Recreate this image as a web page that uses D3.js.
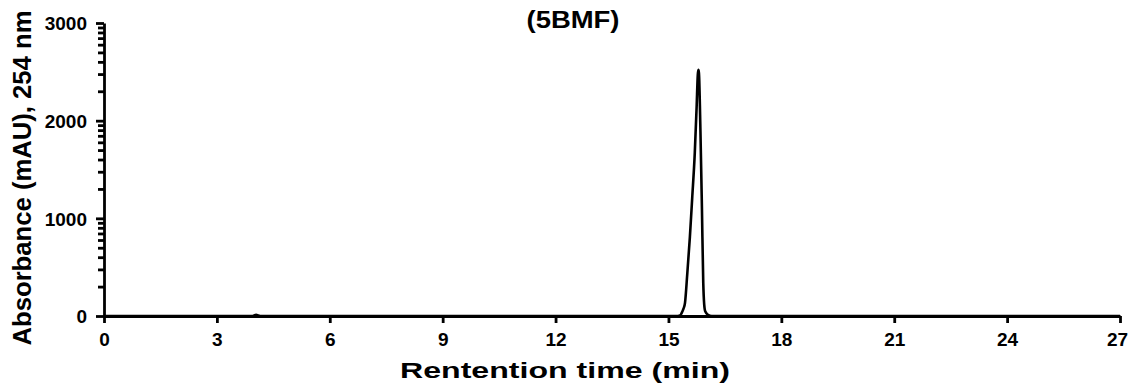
<!DOCTYPE html>
<html>
<head>
<meta charset="utf-8">
<script src="https://cdn.jsdelivr.net/npm/d3@7"></script>
<style>
  body { margin: 0; background: #fff; }
  text { font-family: "Liberation Sans", Arial, sans-serif; font-weight: bold; fill: #000; }
  .axis path, .axis line { stroke: #000; stroke-width: 2.8px; }
</style>
</head>
<body>
<div id="chart"></div>
<script>
// chromatogram trace
var times = [0, 3.95, 4.04, 4.15, 15.25, 15.31, 15.35, 15.40, 15.44, 15.50, 15.57, 15.63, 15.70,
             15.75, 15.78, 15.795, 15.81, 15.85, 15.89, 15.925, 15.95, 15.98, 16.05, 16.15, 27];
var absorbance = [0, 0, 12, 0, 0, 5, 30, 75, 135, 430, 810, 1200, 1670,
                  2150, 2470, 2520, 2490, 1900, 1100, 340, 120, 45, 12, 0, 0];

var xTicks = [0, 3, 6, 9, 12, 15, 18, 21, 24, 27];
var yTicks = [0, 1000, 2000, 3000];

var title = "(5BMF)";
var xTitle = "Rentention time (min)";
var yTitle = "Absorbance (mAU), 254 nm";

var width = 1130, height = 388;
var margin = { top: 23, right: 10, bottom: 72, left: 104 };

var svg = d3.select("#chart").append("svg")
    .attr("width", width)
    .attr("height", height);

var x = d3.scaleLinear().domain([0, 27]).range([margin.left, width - margin.right]);
var y = d3.scaleLinear().domain([0, 3000]).range([height - margin.bottom, margin.top]);

// minor ticks on y, log spaced inside each 1000 step
var minor = [];
yTicks.slice(0, -1).forEach(function(v) {
    for (var k = 2; k <= 9; k++) minor.push(v + 1000 * Math.log10(k));
});

svg.append("g")
    .attr("class", "axis")
    .attr("transform", "translate(" + margin.left + ",0)")
    .call(d3.axisLeft(y).tickValues(minor).tickSize(6).tickFormat(""))
    .call(function(g) { g.select(".domain").remove(); });

var yAxis = svg.append("g")
    .attr("class", "axis")
    .attr("transform", "translate(" + margin.left + ",0)")
    .call(d3.axisLeft(y).tickValues(yTicks).tickFormat(d3.format("d"))
        .tickSize(8).tickSizeOuter(0).tickPadding(9));
yAxis.selectAll(".tick text").style("font-size", "19px").attr("dy", "0.36em");

var xAxis = svg.append("g")
    .attr("class", "axis")
    .attr("transform", "translate(0," + y(0) + ")")
    .call(d3.axisBottom(x).tickValues(xTicks).tickSize(7).tickSizeOuter(0).tickPadding(10));
xAxis.selectAll(".tick text").style("font-size", "19px")
    .attr("dx", function(d) { return d === 27 ? "-3" : null; });

// trace
var pts = times.map(function(t, i) { return [t, absorbance[i]]; });
var line = d3.line()
    .x(function(d) { return x(d[0]); })
    .y(function(d) { return y(d[1]); })
    .curve(d3.curveMonotoneX);

svg.append("path")
    .datum(pts)
    .attr("d", line)
    .attr("fill", "none")
    .attr("stroke", "#000")
    .attr("stroke-width", 2.6)
    .attr("stroke-linejoin", "round");

// titles
svg.append("text")
    .attr("x", 573).attr("y", 28)
    .attr("text-anchor", "middle")
    .style("font-size", "23px")
    .attr("textLength", 93).attr("lengthAdjust", "spacingAndGlyphs")
    .text(title);

svg.append("text")
    .attr("x", 565).attr("y", 378)
    .attr("text-anchor", "middle")
    .style("font-size", "22px")
    .attr("textLength", 330).attr("lengthAdjust", "spacingAndGlyphs")
    .text(xTitle);

svg.append("text")
    .attr("transform", "translate(31,178) rotate(-90)")
    .attr("text-anchor", "middle")
    .style("font-size", "25px")
    .attr("textLength", 335).attr("lengthAdjust", "spacingAndGlyphs")
    .text(yTitle);
</script>
</body>
</html>
